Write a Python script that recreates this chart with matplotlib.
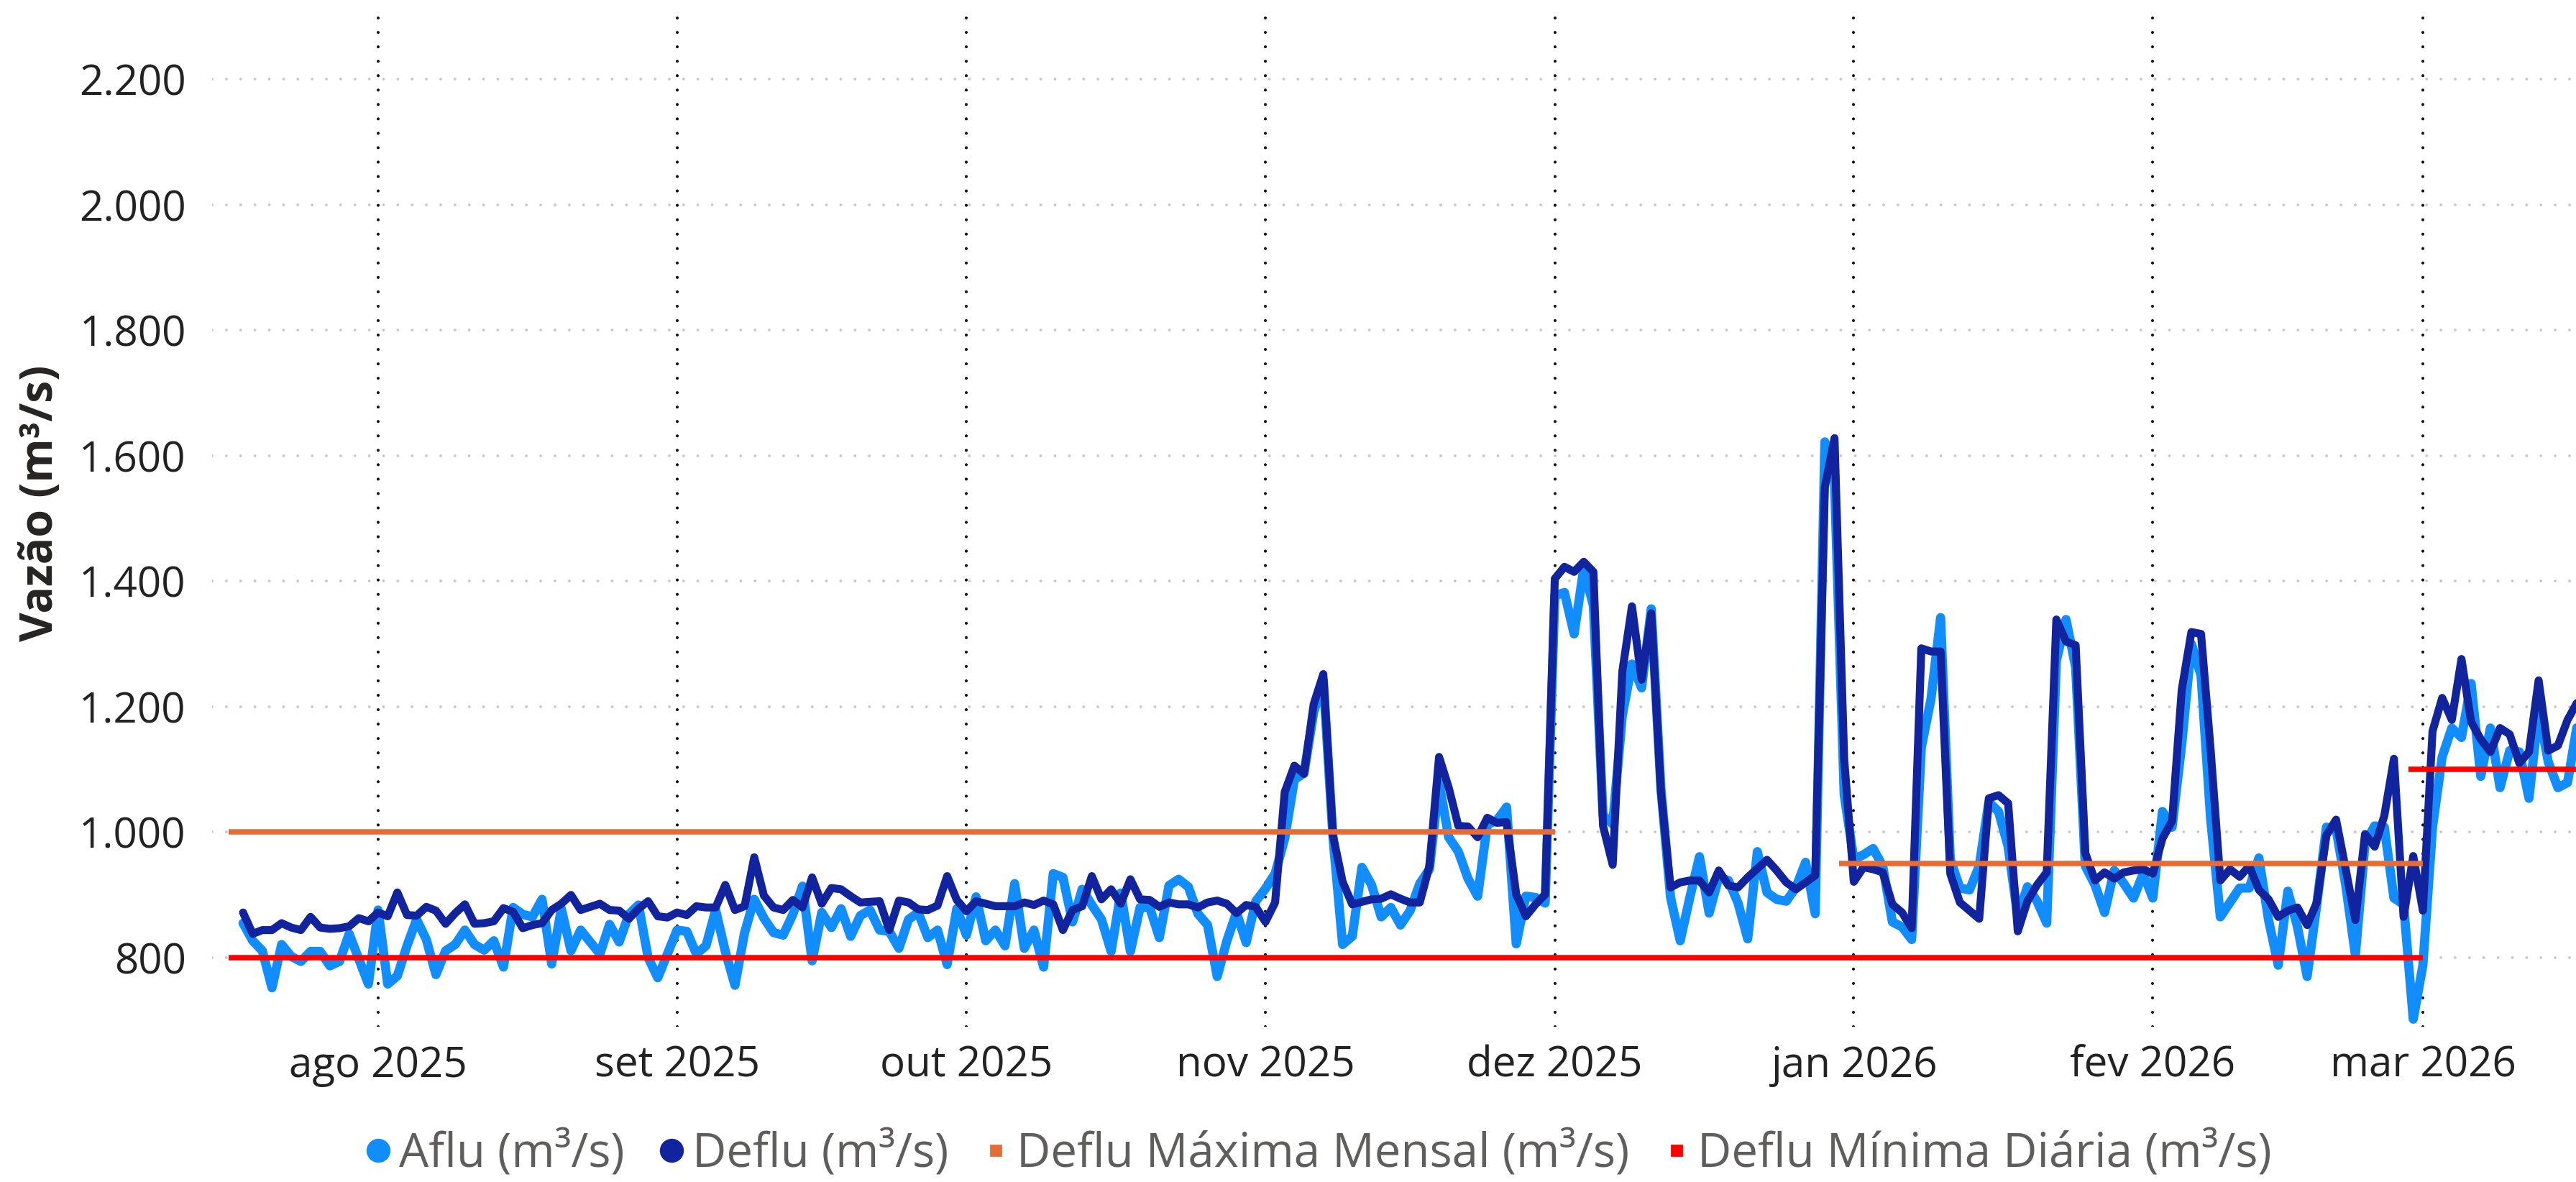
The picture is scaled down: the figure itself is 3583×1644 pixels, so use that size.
import matplotlib
matplotlib.use("Agg")
import matplotlib.pyplot as plt
from matplotlib.lines import Line2D
from matplotlib.ticker import FuncFormatter, FixedLocator
import numpy as np
import pandas as pd

plt.rcParams['font.family'] = ['Open Sans', 'DejaVu Sans']

# ---------------- data ----------------
start_date = "2025-07-18"
end_date = "2026-03-17"

aflu_jul = [855, 827, 811, 752, 821, 802, 794, 810, 810, 787, 794, 838, 798, 758]
aflu_aug = [876, 758, 771, 819, 861, 829, 773, 811, 821, 844, 821, 812, 827, 785, 880, 869,
            865, 893, 790, 878, 811, 844, 825, 806, 853, 825, 869, 884, 800, 768, 806]
aflu_sep = [844, 842, 806, 819, 876, 810, 756, 840, 893, 863, 840, 836, 869, 914, 795, 872,
            848, 878, 834, 867, 876, 844, 842, 815, 861, 872, 832, 844, 789, 878]
aflu_oct = [836, 897, 827, 844, 819, 918, 815, 844, 785, 934, 928, 857, 909, 884, 861, 810,
            903, 810, 880, 880, 832, 915, 925, 913, 870, 852, 770, 827, 872, 824, 890]
aflu_nov = [910, 934, 990, 1084, 1094, 1191, 1242, 992, 821, 834, 944, 916, 865, 880, 852, 875,
            918, 941, 1079, 992, 969, 926, 898, 1012, 1019, 1040, 822, 898, 896, 887]
aflu_dec = [1377, 1382, 1316, 1420, 1361, 1027, 1013, 1186, 1268, 1230, 1356, 1070, 896, 827, 896, 961,
            871, 928, 923, 887, 830, 969, 904, 893, 890, 912, 952, 870, 1622, 1560, 1060]
aflu_jan = [957, 964, 974, 946, 857, 849, 829, 1135, 1212, 1342, 957, 911, 908, 946, 1048, 1033,
            977, 865, 913, 890, 855, 1273, 1339, 1263, 946, 916, 872, 939, 918, 895, 934]
aflu_feb = [895, 1033, 1008, 1140, 1300, 1250, 1020, 865, 888, 911, 911, 959, 860, 788, 906, 849,
            770, 885, 1008, 1005, 916, 804, 982, 1010, 1008, 895, 885, 702]
aflu_mar = [788, 1008, 1120, 1166, 1151, 1237, 1089, 1166, 1071, 1130, 1128, 1054, 1194, 1112, 1071, 1079, 1171]

deflu_jul = [872, 838, 844, 844, 855, 848, 844, 865, 848, 846, 847, 850, 863, 858]
deflu_aug = [872, 866, 904, 868, 867, 881, 875, 854, 871, 885, 854, 855, 858, 879, 873, 847,
             852, 855, 876, 886, 900, 876, 881, 886, 876, 875, 862, 878, 890, 866, 864]
deflu_sep = [872, 868, 882, 880, 880, 916, 876, 882, 960, 899, 880, 876, 892, 880, 928, 886,
             911, 909, 898, 888, 889, 890, 844, 891, 888, 877, 876, 883, 930, 892]
deflu_oct = [874, 890, 886, 882, 882, 882, 888, 884, 891, 885, 844, 876, 882, 930, 893, 909,
             886, 925, 893, 892, 881, 888, 885, 885, 880, 888, 891, 886, 871, 884, 881]
deflu_nov = [857, 888, 1064, 1106, 1093, 1204, 1252, 995, 921, 885, 889, 893, 894, 901, 894, 888,
             888, 946, 1120, 1071, 1010, 1009, 992, 1023, 1015, 1016, 901, 866, 885, 901]
deflu_dec = [1404, 1423, 1415, 1431, 1415, 1010, 948, 1256, 1360, 1243, 1349, 1065, 912, 920, 923, 923,
             904, 939, 915, 912, 928, 942, 956, 939, 920, 909, 920, 931, 1550, 1628, 1117]
deflu_jan = [921, 944, 941, 936, 885, 872, 847, 1293, 1288, 1288, 934, 888, 875, 862, 1054, 1059,
             1046, 842, 890, 916, 936, 1339, 1304, 1298, 967, 923, 936, 926, 936, 939, 941]
deflu_feb = [934, 990, 1018, 1227, 1319, 1316, 1130, 923, 941, 929, 946, 908, 893, 865, 875, 880,
             852, 888, 995, 1020, 941, 860, 997, 977, 1026, 1117, 865, 962]
deflu_mar = [875, 1161, 1214, 1179, 1276, 1176, 1148, 1128, 1166, 1156, 1110, 1128, 1242, 1130, 1138, 1179, 1207]

# Deflu Máxima Mensal (m³/s): segments (start, end, value)
max_starts = ["2025-07-16 12:00", "2025-12-30 12:00"]
max_ends = ["2025-12-01 00:00", "2026-03-01 00:00"]
max_values = [1000, 950]

# Deflu Mínima Diária (m³/s): segments (start, end, value)
min_starts = ["2025-07-16 12:00", "2026-02-27 12:00"]
min_ends = ["2026-03-01 00:00", "2026-03-17 00:00"]
min_values = [800, 1100]

month_ticks = ["2025-08-01", "2025-09-01", "2025-10-01", "2025-11-01", "2025-12-01",
               "2026-01-01", "2026-02-01", "2026-03-01"]
month_labels = ["ago 2025", "set 2025", "out 2025", "nov 2025", "dez 2025",
                "jan 2026", "fev 2026", "mar 2026"]
y_ticks = [800, 1000, 1200, 1400, 1600, 1800, 2000, 2200]

series_names = ["Aflu (m³/s)", "Deflu (m³/s)", "Deflu Máxima Mensal (m³/s)", "Deflu Mínima Diária (m³/s)"]

# ---------------- build ----------------
dates = pd.date_range(start_date, end_date, freq="D")
aflu = np.array(aflu_jul + aflu_aug + aflu_sep + aflu_oct + aflu_nov + aflu_dec + aflu_jan + aflu_feb + aflu_mar, float)
deflu = np.array(deflu_jul + deflu_aug + deflu_sep + deflu_oct + deflu_nov + deflu_dec + deflu_jan + deflu_feb + deflu_mar, float)

C_AFLU = "#118DFF"
C_DEFLU = "#12239E"
C_MAX = "#E66C37"
C_MIN = "#FF0000"

W, H, DPI = 3583, 1644, 200
fig = plt.figure(figsize=(W / DPI, H / DPI), dpi=DPI)
ax = fig.add_axes([295 / W, 1 - 1428 / H, 1 - 295 / W, (1428 - 23) / H])

ax.plot(dates, aflu, color=C_AFLU, lw=4.6, solid_joinstyle="round", solid_capstyle="round", zorder=3)
ax.plot(dates, deflu, color=C_DEFLU, lw=4.0, solid_joinstyle="round", solid_capstyle="round", zorder=4)
for s, e, v in zip(max_starts, max_ends, max_values):
    ax.plot([pd.Timestamp(s), pd.Timestamp(e)], [v, v], color=C_MAX, lw=2.7, solid_capstyle="butt", zorder=5)
for s, e, v in zip(min_starts, min_ends, min_values):
    ax.plot([pd.Timestamp(s), pd.Timestamp(e)], [v, v], color=C_MIN, lw=2.7, solid_capstyle="butt", zorder=6)

ax.set_xlim(pd.Timestamp("2025-07-14 19:00"), pd.Timestamp("2026-03-16 21:00"))
ax.set_ylim(690, 2300)

# grid
ax.yaxis.set_major_locator(FixedLocator(y_ticks))
ax.yaxis.set_major_formatter(FuncFormatter(lambda v, p: f"{int(v):,}".replace(",", ".")))
for yv in y_ticks:
    ax.axhline(yv, color="#C8C8C8", lw=1.4, ls=(0, (0.01, 5.1)), dash_capstyle="round", zorder=1)
tick_dates = [pd.Timestamp(d) for d in month_ticks]
for d in tick_dates:
    ax.axvline(d, color="#111111", lw=1.5, ls=(0, (0.01, 4.8)), dash_capstyle="round", zorder=1)
ax.set_xticks(tick_dates)
ax.set_xticklabels(month_labels)

for sp in ax.spines.values():
    sp.set_visible(False)
ax.tick_params(axis="both", length=0, labelsize=21, colors="#222222")
ax.tick_params(axis="y", pad=13)
ax.tick_params(axis="x", pad=9)

fig.text(57 / W, 1 - 700 / H, "Vazão (m³/s)", rotation=90, ha="center", va="center",
         fontsize=22.5, fontweight="bold", color="#252423")

handles = [
    Line2D([], [], ls="none", marker="o", ms=11, color=C_AFLU),
    Line2D([], [], ls="none", marker="o", ms=11, color=C_DEFLU),
    Line2D([], [], ls="none", marker="s", ms=5, color=C_MAX),
    Line2D([], [], ls="none", marker="s", ms=5, color=C_MIN),
]
leg = fig.legend(handles, series_names, loc="center", bbox_to_anchor=(1833 / W, 1 - 1606 / H),
                 ncol=4, frameon=False, fontsize=23.5, handlelength=0.6, handletextpad=0.15,
                 columnspacing=0.7, borderaxespad=0)
for t in leg.get_texts():
    t.set_color("#605E5C")

fig.savefig("out.png", dpi=DPI)
